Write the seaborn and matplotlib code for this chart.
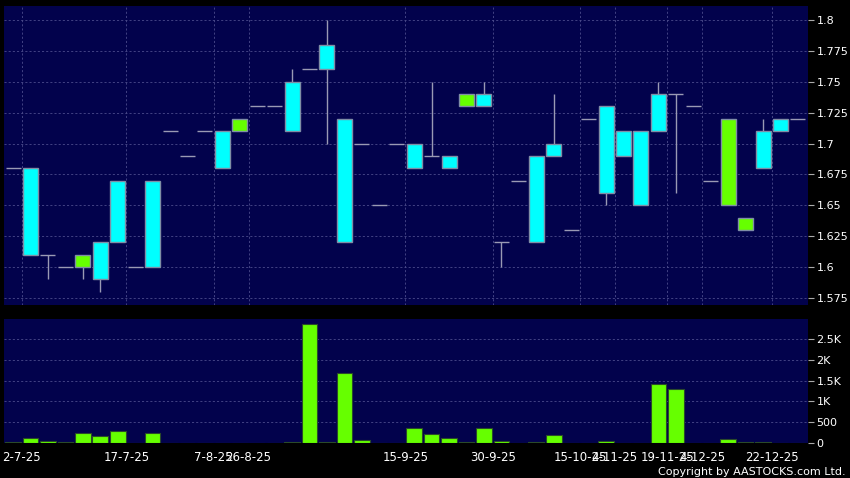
import numpy as np
import pandas as pd
import matplotlib
matplotlib.use("Agg")
import matplotlib.pyplot as plt
import seaborn as sns

# ---- data (one entry per trading slot) ----
opens  = [1.68, 1.68, 1.61, 1.60, 1.60, 1.62, 1.67, 1.60, 1.67, 1.71,
          1.69, 1.71, 1.71, 1.71, 1.73, 1.73, 1.75, 1.76, 1.78, 1.72,
          1.70, 1.65, 1.70, 1.70, 1.69, 1.69, 1.73, 1.74, 1.62, 1.67,
          1.69, 1.70, 1.63, 1.72, 1.73, 1.71, 1.71, 1.74, 1.74, 1.73,
          1.67, 1.65, 1.63, 1.71, 1.72, 1.72]
highs  = [1.68, 1.68, 1.61, 1.60, 1.61, 1.62, 1.67, 1.60, 1.67, 1.71,
          1.69, 1.71, 1.71, 1.72, 1.73, 1.73, 1.76, 1.76, 1.80, 1.72,
          1.70, 1.65, 1.70, 1.70, 1.75, 1.69, 1.74, 1.75, 1.62, 1.67,
          1.69, 1.74, 1.63, 1.72, 1.73, 1.71, 1.71, 1.75, 1.74, 1.73,
          1.67, 1.72, 1.64, 1.72, 1.72, 1.72]
lows   = [1.68, 1.61, 1.59, 1.60, 1.59, 1.58, 1.62, 1.60, 1.60, 1.71,
          1.69, 1.71, 1.68, 1.71, 1.73, 1.73, 1.71, 1.76, 1.70, 1.62,
          1.70, 1.65, 1.70, 1.68, 1.69, 1.68, 1.73, 1.73, 1.60, 1.67,
          1.62, 1.69, 1.63, 1.72, 1.65, 1.69, 1.65, 1.71, 1.66, 1.73,
          1.67, 1.65, 1.63, 1.68, 1.71, 1.72]
closes = [1.68, 1.61, 1.61, 1.60, 1.61, 1.59, 1.62, 1.60, 1.60, 1.71,
          1.69, 1.71, 1.68, 1.72, 1.73, 1.73, 1.71, 1.76, 1.76, 1.62,
          1.70, 1.65, 1.70, 1.68, 1.69, 1.68, 1.74, 1.73, 1.62, 1.67,
          1.62, 1.69, 1.63, 1.72, 1.66, 1.69, 1.65, 1.71, 1.74, 1.73,
          1.67, 1.72, 1.64, 1.68, 1.71, 1.72]
volumes = [20, 110, 60, 25, 250, 170, 300, 5, 230, 3,
           8, 3, 10, 3, 3, 3, 20, 2850, 20, 1680,
           70, 3, 5, 360, 220, 130, 30, 350, 55, 3,
           30, 200, 3, 3, 56, 3, 3, 1410, 1290, 3,
           3, 90, 32, 24, 3, 3]
tick_labels = ["2-7-25", "17-7-25", "7-8-25", "26-8-25", "15-9-25", "30-9-25",
               "15-10-25", "4-11-25", "19-11-25", "4-12-25", "22-12-25"]
tick_slots = [0, 6, 11, 13, 22, 27, 32, 34, 37, 39, 43]   # label sits after this slot

price_ticks = [1.575, 1.6, 1.625, 1.65, 1.675, 1.7, 1.725, 1.75, 1.775, 1.8]
price_tick_labels = ["1.575", "1.6", "1.625", "1.65", "1.675", "1.7", "1.725", "1.75", "1.775", "1.8"]
vol_ticks = [0, 500, 1000, 1500, 2000, 2500]
vol_tick_labels = ["0", "500", "1K", "1.5K", "2K", "2.5K"]

df = pd.DataFrame({"slot": np.arange(len(opens)), "open": opens, "high": highs,
                   "low": lows, "close": closes, "volume": volumes})

# ---- style ----
BG = "#02024c"
GRID = "#4c4c8c"
EDGE = "#7f8ea6"
WICK = "#9a9ab4"
UP = "#66ff00"
DOWN = "#00ffff"

sns.set_theme(style="dark")
plt.rcParams["font.family"] = ["DejaVu Sans"]

fig = plt.figure(figsize=(8.5, 4.78), dpi=100, facecolor="black")
ax1 = fig.add_axes([0.0047, 0.3619, 0.9459, 0.6255])
ax2 = fig.add_axes([0.0047, 0.0732, 0.9459, 0.2594])

xlim = (-0.52, 45.58)
W = 0.86

for ax in (ax1, ax2):
    ax.set_facecolor(BG)
    for s in ax.spines.values():
        s.set_visible(False)
    ax.set_xlim(*xlim)
    ax.grid(True, color=GRID, linestyle=(0, (2.5, 2.5)), linewidth=0.6)
    ax.set_axisbelow(True)

# ---- candles ----
for _, r in df.iterrows():
    x = r["slot"]
    o, h, l, c = r["open"], r["high"], r["low"], r["close"]
    top, bot = max(o, c), min(o, c)
    if h > top:
        ax1.vlines(x, top, h, color=WICK, linewidth=1.0, zorder=2)
    if l < bot:
        ax1.vlines(x, l, bot, color=WICK, linewidth=1.0, zorder=2)
    if abs(o - c) < 1e-9:
        ax1.hlines(o, x - W / 2, x + W / 2, color=WICK, linewidth=1.0, zorder=3)
    else:
        col = UP if c > o else DOWN
        ax1.bar(x, top - bot, bottom=bot, width=W, color=col, edgecolor=EDGE,
                linewidth=1.0, zorder=3)

ax1.set_ylim(1.5693, 1.8113)
ax1.set_xticks([s + 0.5 for s in tick_slots])
ax1.set_xticklabels([])
ax1.tick_params(axis="x", length=0)
ax1.yaxis.tick_right()
ax1.set_yticks(price_ticks)
ax1.set_yticklabels(price_tick_labels)
ax1.tick_params(axis="y", colors="white", labelsize=8, length=4, width=0.8,
                pad=2, color="#aaaaaa")

# ---- volume ----
sns.barplot(data=df, x="slot", y="volume", ax=ax2, color=UP, width=0.9,
            edgecolor="#2a4a2a", linewidth=0.8, saturation=1, zorder=3)
ax2.set_xlim(*xlim)
ax2.set_ylim(0, 2980)
ax2.set_xlabel("")
ax2.set_ylabel("")
ax2.set_xticks([s + 0.5 for s in tick_slots])
ax2.set_xticklabels(tick_labels)
ax2.tick_params(axis="x", colors="white", labelsize=8.5, length=4, width=0.8,
                pad=2, color="#aaaaaa")
ax2.yaxis.tick_right()
ax2.set_yticks(vol_ticks)
ax2.set_yticklabels(vol_tick_labels)
ax2.tick_params(axis="y", colors="white", labelsize=8, length=4, width=0.8,
                pad=2, color="#aaaaaa")

fig.text(0.995, 0.002, "Copyright by AASTOCKS.com Ltd.", color="white",
         fontsize=8, ha="right", va="bottom")

fig.savefig("out.png", dpi=100, facecolor="black")
